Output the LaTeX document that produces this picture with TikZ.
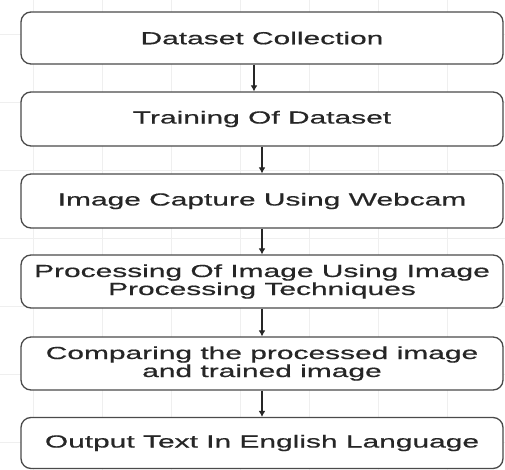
\documentclass[tikz,border=0pt]{standalone}
\usepackage{fontspec}
\setmainfont{Liberation Sans}[FakeStretch=1.71,FakeBold=0.6]
\usetikzlibrary{arrows.meta}
\definecolor{boxline}{HTML}{4A4A4A}
\definecolor{txt}{HTML}{262626}
\definecolor{gridc}{HTML}{EFEFEF}
\begin{document}
\begin{tikzpicture}[x=1pt,y=-1pt,
  stepbox/.style={draw=boxline,line width=1.3pt,fill=white,rounded corners=10pt,
    minimum width=482pt,inner sep=2pt,align=center,text=txt,
    font=\fontsize{17.5}{18}\selectfont},
  arr/.style={draw=black!85,line width=1.2pt,-{Latex[length=6pt,width=7pt]}}]
\useasboundingbox (0,0) rectangle (505,470);
\fill[white] (0,0) rectangle (505,470);
\foreach \gx in {33,102,171,240,309,378,447}
  \draw[gridc,line width=0.6pt] (\gx,0) -- (\gx,470);
\foreach \gy in {34,102,170,238,306,374,442}
  \draw[gridc,line width=0.6pt] (0,\gy) -- (505,\gy);
\node[stepbox,minimum height=52pt] (b1) at (262,38) {Dataset Collection};
\node[stepbox,minimum height=54pt] (b2) at (262,119) {Training Of Dataset};
\node[stepbox,minimum height=54pt] (b3) at (262,201) {Image Capture Using Webcam};
\node[stepbox,minimum height=53pt] (b4) at (262,281.5) {Processing Of Image Using Image\\Processing Techniques};
\node[stepbox,minimum height=53pt] (b5) at (262,363.5) {Comparing the processed image\\and trained image};
\node[stepbox,minimum height=51pt] (b6) at (262,443) {Output Text In English Language};
\draw[arr] ([xshift=-8pt]b1.south) -- ([xshift=-8pt]b2.north);
\draw[arr] (b2.south) -- (b3.north);
\draw[arr] (b3.south) -- (b4.north);
\draw[arr] (b4.south) -- (b5.north);
\draw[arr] (b5.south) -- (b6.north);
\end{tikzpicture}
\end{document}
